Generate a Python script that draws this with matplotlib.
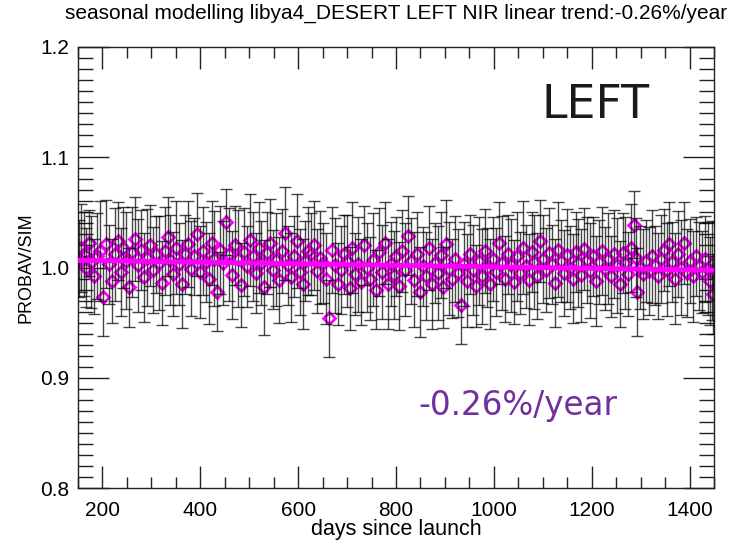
import matplotlib
matplotlib.use("Agg")
import matplotlib.pyplot as plt
from matplotlib.ticker import MultipleLocator

days = [153,157,162,167,172,177,182,188,194,201,
        207,213,219,225,231,237,243,249,255,261,
        267,273,279,285,291,297,303,309,315,321,
        327,333,339,345,351,357,363,369,375,381,
        387,393,399,405,411,417,423,429,435,441,
        447,453,459,465,471,477,483,489,495,501,
        507,513,519,525,531,537,543,549,555,561,
        567,573,579,585,591,597,603,609,615,621,
        627,633,639,645,651,657,663,669,675,681,
        687,693,699,705,711,717,723,729,735,741,
        747,753,759,765,771,777,783,789,795,801,
        807,813,819,825,831,837,843,849,855,861,
        867,873,879,885,891,897,903,909,915,921,
        927,933,939,945,951,957,963,969,975,981,
        987,993,999,1005,1011,1017,1023,1029,1035,1041,
        1047,1053,1059,1065,1071,1077,1083,1089,1095,1101,
        1107,1113,1119,1125,1131,1137,1143,1149,1155,1161,
        1167,1173,1179,1185,1191,1197,1203,1209,1215,1221,
        1227,1233,1239,1245,1251,1257,1263,1269,1275,1281,
        1287,1290,1293,1299,1305,1311,1317,1323,1329,1335,
        1341,1347,1353,1359,1365,1371,1377,1383,1389,1395,
        1401,1407,1413,1419,1425,1431,1437,1442,1446,1448]

ratio = [1.008,1.018,1.012,1.000,1.022,1.005,0.992,1.010,1.015,0.973,
         1.021,1.003,0.988,1.012,1.024,0.996,1.018,1.006,0.982,1.014,
         1.026,1.002,1.016,0.991,1.009,1.020,0.998,1.012,1.004,0.986,
         1.015,1.028,1.007,0.994,1.018,1.003,0.985,1.012,1.021,0.999,
         1.010,1.030,0.996,1.015,1.005,0.990,1.022,1.008,0.978,1.016,
         1.004,1.041,1.012,0.993,1.020,1.008,0.984,1.014,1.001,1.025,
         1.010,0.995,1.018,1.004,0.982,1.013,1.022,0.998,1.007,0.989,
         1.015,1.031,1.002,0.991,1.010,1.024,0.996,0.985,1.006,1.015,
         1.012,1.020,0.997,1.009,1.004,0.990,0.954,1.016,1.002,0.985,
         0.998,1.012,1.006,0.981,1.018,0.994,1.003,0.987,1.020,1.000,
         0.990,1.007,0.980,1.014,0.996,1.022,0.985,1.003,0.993,1.010,
         0.983,1.015,0.998,1.029,1.006,0.989,1.012,0.978,1.001,0.992,
         1.018,0.985,1.004,0.995,1.011,0.982,1.021,0.999,0.990,1.008,
         0.995,0.966,1.003,0.988,1.012,0.998,0.983,1.006,0.992,1.015,
         1.000,0.985,1.008,0.996,1.022,1.004,0.990,1.012,1.002,0.987,
         1.010,0.995,1.018,1.001,0.989,1.014,1.005,0.992,1.024,1.008,
         0.998,1.013,1.003,0.986,1.016,1.006,0.995,1.011,1.000,0.990,
         1.014,1.004,0.993,1.017,1.007,0.997,1.010,0.988,1.005,1.015,
         0.999,1.008,0.992,1.012,1.002,0.985,1.013,1.004,0.994,1.018,
         1.039,1.009,0.978,1.000,0.994,1.006,0.997,1.010,1.002,0.992,
         1.008,1.016,0.998,1.021,1.005,0.990,1.012,1.000,1.022,0.995,
         1.006,0.992,1.010,1.001,0.996,1.008,0.999,0.988,0.997,0.976]

err = [0.035,0.040,0.038,0.036,0.030,0.042,0.034,0.039,0.045,0.035,
       0.040,0.036,0.038,0.042,0.035,0.040,0.037,0.044,0.036,0.041,
       0.038,0.042,0.036,0.040,0.044,0.037,0.039,0.035,0.043,0.038,
       0.040,0.036,0.041,0.038,0.042,0.037,0.040,0.036,0.039,0.043,
       0.035,0.038,0.042,0.040,0.036,0.041,0.038,0.043,0.036,0.040,
       0.038,0.030,0.042,0.040,0.036,0.044,0.038,0.040,0.037,0.042,
       0.040,0.036,0.041,0.038,0.043,0.037,0.040,0.036,0.042,0.039,
       0.038,0.042,0.036,0.040,0.037,0.043,0.039,0.041,0.036,0.040,
       0.037,0.040,0.038,0.042,0.036,0.041,0.035,0.039,0.043,0.037,
       0.040,0.036,0.042,0.038,0.041,0.037,0.043,0.039,0.036,0.040,
       0.038,0.042,0.036,0.040,0.043,0.037,0.041,0.038,0.040,0.036,
       0.040,0.037,0.042,0.036,0.039,0.043,0.038,0.041,0.036,0.040,
       0.038,0.041,0.036,0.043,0.039,0.037,0.040,0.042,0.036,0.039,
       0.040,0.035,0.038,0.042,0.036,0.041,0.037,0.040,0.043,0.038,
       0.036,0.041,0.038,0.040,0.037,0.043,0.039,0.036,0.042,0.038,
       0.040,0.037,0.042,0.038,0.041,0.036,0.043,0.039,0.037,0.040,
       0.038,0.041,0.036,0.040,0.043,0.037,0.039,0.042,0.038,0.040,
       0.036,0.040,0.042,0.037,0.039,0.043,0.036,0.041,0.038,0.040,
       0.038,0.041,0.037,0.040,0.043,0.039,0.036,0.042,0.038,0.040,
       0.030,0.036,0.040,0.038,0.041,0.037,0.040,0.042,0.036,0.039,
       0.040,0.037,0.042,0.038,0.036,0.041,0.039,0.043,0.037,0.040,
       0.038,0.041,0.036,0.040,0.037,0.039,0.042,0.040,0.045,0.036]

trend_days = [150, 1450]
trend_vals = [1.0065, 0.9975]

title = "seasonal modelling libya4_DESERT LEFT NIR linear trend:-0.26%/year"
xticks = [200, 400, 600, 800, 1000, 1200, 1400]
yticks = [0.8, 0.9, 1.0, 1.1, 1.2]
ytick_labels = ["0.8", "0.9", "1.0", "1.1", "1.2"]

plt.rcParams['font.family'] = ['Liberation Sans', 'DejaVu Sans']

fig = plt.figure(figsize=(7.37, 5.45), dpi=100)
ax = fig.add_axes([78/737, 1-488/545, (714-78)/737, (488-47)/545])

ax.plot(days, ratio, linestyle='none', marker='D', markersize=6,
        markerfacecolor='none', markeredgecolor='#ff00ff',
        markeredgewidth=2, zorder=2)
ax.errorbar(days, ratio, yerr=err, fmt='none', ecolor='black', elinewidth=1,
            capsize=4.5, capthick=1, alpha=0.72, zorder=3)
ax.plot(trend_days, trend_vals, color='#ff00ff', linewidth=3.5, zorder=4)

ax.set_xlim(150, 1450)
ax.set_ylim(0.8, 1.2)
ax.set_xticks(xticks)
ax.set_yticks(yticks)
ax.set_yticklabels(ytick_labels)
ax.xaxis.set_minor_locator(MultipleLocator(50))
ax.yaxis.set_minor_locator(MultipleLocator(0.01))
ax.tick_params(axis='both', which='both', direction='in', top=True, right=True,
               labelsize=15, width=1, color='#222222')
ax.tick_params(axis='x', which='major', length=16, pad=9)
ax.tick_params(axis='x', which='minor', length=8)
ax.tick_params(axis='y', which='major', length=22, pad=6)
ax.tick_params(axis='y', which='minor', length=11)
for s in ax.spines.values():
    s.set_linewidth(1)
    s.set_color('#222222')

ax.set_xlabel("days since launch", fontsize=15.5, labelpad=0)
ax.set_ylabel("PROBAV/SIM", fontsize=13, labelpad=4)
fig.text(396/737, 1-13/545, title, ha='center', va='center', fontsize=15)

fig.text(596/737, 1-105/545, "LEFT", ha='center', va='center', fontsize=33,
         color='#1a1a1a', family='DejaVu Sans')
fig.text(518/737, 1-405/545, "-0.26%/year", ha='center', va='center', fontsize=23.5,
         color='#7030a0', family='DejaVu Sans')

fig.savefig("out.png", dpi=100)
